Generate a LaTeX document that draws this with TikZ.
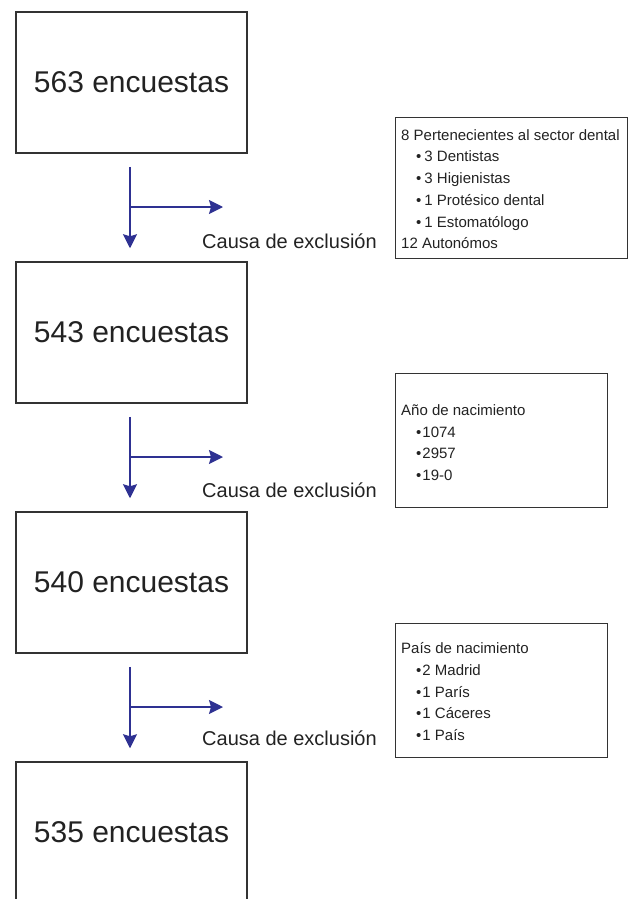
\documentclass[tikz,border=0pt]{standalone}
\usepackage{fontspec}
\setmainfont{Liberation Sans}
\usetikzlibrary{arrows.meta}
\definecolor{arrowblue}{RGB}{46,49,146}
\definecolor{txt}{RGB}{34,34,34}
\definecolor{edge}{RGB}{51,51,51}
\newcommand{\bul}[1]{\hspace*{15pt}\textbullet\hspace{3pt}#1}
\newcommand{\bult}[1]{\hspace*{15pt}\textbullet\hspace{1pt}#1}
\begin{document}
\begin{tikzpicture}[x=1pt,y=-1pt,
 mainbox/.style={draw=edge,line width=1.5pt,minimum width=231pt,minimum height=141pt,inner sep=0pt,font=\fontsize{30}{36}\selectfont,text=txt},
 notebox/.style={draw=edge,line width=1.3pt,inner sep=0pt,anchor=north west},
 notetext/.style={anchor=west,align=left,inner sep=0pt,font=\fontsize{15}{21.7}\selectfont,text=txt},
 flow/.style={draw=arrowblue,line width=1.5pt,-{Stealth[length=14pt,width=14pt,inset=2pt]}},
 cause/.style={anchor=base west,font=\fontsize{20}{24}\selectfont,text=txt,inner sep=0pt}]
\useasboundingbox (0,0) rectangle (630,899);
\clip (0,0) rectangle (630,899);

% main boxes
\node[mainbox] (b1) at (131.5,82.5) {563 encuestas};
\node[mainbox] (b2) at (131.5,332.5) {543 encuestas};
\node[mainbox] (b3) at (131.5,582.5) {540 encuestas};
\node[mainbox] (b4) at (131.5,832.5) {535 encuestas};

% vertical flow arrows
\draw[flow] ([xshift=-1.5pt,yshift=-13pt]b1.south) -- ([xshift=-1.5pt,yshift=13pt]b2.north);
\draw[flow] ([xshift=-1.5pt,yshift=-13pt]b2.south) -- ([xshift=-1.5pt,yshift=13pt]b3.north);
\draw[flow] ([xshift=-1.5pt,yshift=-13pt]b3.south) -- ([xshift=-1.5pt,yshift=13pt]b4.north);

% exclusion branches
\coordinate (j1) at (130,207); \coordinate (e1) at (223,207);
\coordinate (j2) at (130,457); \coordinate (e2) at (223,457);
\coordinate (j3) at (130,707); \coordinate (e3) at (223,707);
\draw[flow] (j1) -- (e1);
\draw[flow] (j2) -- (e2);
\draw[flow] (j3) -- (e3);

\node[cause] (c1) at (202,248) {Causa de exclusión};
\node[cause] (c2) at (202,497) {Causa de exclusión};
\node[cause] (c3) at (202,745) {Causa de exclusión};

% note boxes
\node[notebox,minimum width=232pt,minimum height=141pt] (r1) at (395,117) {};
\node[notetext] (t1) at ([xshift=6pt,yshift=-1pt]r1.west) {8 Pertenecientes al sector dental\\
\bul{3 Dentistas}\\
\bul{3 Higienistas}\\
\bul{1 Protésico dental}\\
\bul{1 Estomatólogo}\\
12 Autonómos};

\node[notebox,minimum width=212pt,minimum height=134pt] (r2) at (395,373) {};
\node[notetext] (t2) at ([xshift=6pt,yshift=-2pt]r2.west) {Año de nacimiento\\
\bult{1074}\\
\bult{2957}\\
\bult{19-0}};

\node[notebox,minimum width=212pt,minimum height=134pt] (r3) at (395,623) {};
\node[notetext] (t3) at ([xshift=6pt,yshift=-1pt]r3.west) {País de nacimiento\\
\bult{2 Madrid}\\
\bult{1 París}\\
\bult{1 Cáceres}\\
\bult{1 País}};
\end{tikzpicture}
\end{document}
